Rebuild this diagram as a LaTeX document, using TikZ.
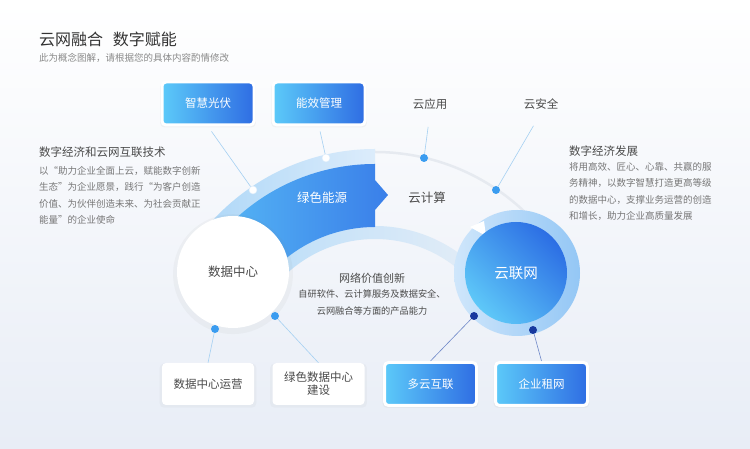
\documentclass[tikz,border=0pt]{standalone}
\usepackage{fontspec}
\setmainfont{Noto Sans CJK SC}
\usetikzlibrary{shadows}

\definecolor{ink}{HTML}{333333}
\definecolor{headgray}{HTML}{4A4A4A}
\definecolor{bodygray}{HTML}{777777}
\definecolor{subgray}{HTML}{8A8A8A}
\definecolor{bgbot}{HTML}{E8EDF6}
\definecolor{boxlight}{HTML}{5CCAF9}
\definecolor{boxdark}{HTML}{2F6DE3}
\definecolor{bandlight}{HTML}{58BCF6}
\definecolor{banddark}{HTML}{3A7FE9}
\definecolor{paleblue}{HTML}{A9D5F7}
\definecolor{palefade}{HTML}{DCECFB}
\definecolor{innerfade}{HTML}{E6EEF7}
\definecolor{ringlight}{HTML}{CFE6FB}
\definecolor{ringdark}{HTML}{94C7F5}
\definecolor{corelight}{HTML}{5EC8F8}
\definecolor{coredark}{HTML}{2C6EE4}
\definecolor{dotblue}{HTML}{3A9CF0}
\definecolor{dotnavy}{HTML}{17389E}
\definecolor{leadblue}{HTML}{A5D0F2}
\definecolor{leadnavy}{HTML}{6F88C8}
\definecolor{rimgray}{HTML}{E6EAF0}

\begin{document}
\begin{tikzpicture}[
    x=1pt,y=1pt,
    title/.style={anchor=west,inner sep=0pt,text=ink,font=\fontsize{16}{18}\selectfont},
    subtitle/.style={anchor=west,inner sep=0pt,text=subgray,font=\fontsize{9.5}{11}\selectfont},
    heading/.style={anchor=west,inner sep=0pt,text=headgray,font=\fontsize{11.5}{13}\selectfont},
    body/.style={anchor=north west,inner sep=0pt,align=left,text=bodygray,
        font=\fontsize{9.5}{16.5}\selectfont},
    bluebox/.style={rounded corners=4pt,draw=white,line width=3pt,
        minimum width=92pt,minimum height=43pt,left color=boxlight,right color=boxdark,
        text=white,font=\fontsize{11.5}{13}\selectfont,
        drop shadow={opacity=.07,shadow xshift=0pt,shadow yshift=-1.5pt,shadow scale=1.04}},
    whitebox/.style={rounded corners=4pt,fill=white,minimum width=92pt,minimum height=42pt,
        text=headgray,font=\fontsize{11.5}{13}\selectfont,align=center,
        drop shadow={opacity=.05,shadow xshift=0pt,shadow yshift=-1.5pt,shadow scale=1.05}},
    tag/.style={text=headgray,font=\fontsize{11.5}{13}\selectfont},
    lead/.style={line width=.6pt,draw=leadblue},
    dot/.style={circle,inner sep=0pt,minimum size=8pt},
    hollow/.style={fill=white,draw=palefade,line width=.5pt},
    solid/.style={fill=dotblue},
    deep/.style={fill=dotnavy}
]
    \useasboundingbox (0,0) rectangle (750,449);
    \shade[top color=white,bottom color=bgbot] (0,0) rectangle (750,449);

    % Title block.
    \node[title] (title) at (39,410) {云网融合\hspace{.6em}数字赋能};
    \node[subtitle] (subtitle) at (39,391) {此为概念图解，请根据您的具体内容酌情修改};

    % Side texts.
    \node[heading] (lefthead) at (39,297) {数字经济和云网互联技术};
    \node[body] (lefttext) at (39,283) {以“助力企业全面上云，赋能数字创新\\
        生态”为企业愿景，践行“为客户创造\\
        价值、为伙伴创造未来、为社会贡献正\\
        能量”的企业使命};
    \node[heading] (righthead) at (569,298) {数字经济发展};
    \node[body] (righttext) at (569,287) {将用高效、匠心、心靠、共赢的服\\
        务精神，以数字智慧打造更高等级\\
        的数据中心，支撑业务运营的创造\\
        和增长，助力企业高质量发展};

    % Ring round (375,80): rim, pale strips and the blue band.
    \begin{scope}[shift={(375,80)}]
        \draw[rimgray,line width=2.5pt] (32:217) arc[start angle=32,end angle=90,radius=217];
        \shade[left color=paleblue,right color=palefade]
            (150:220) arc[start angle=150,end angle=90,radius=220]
            -- (90:204) arc[start angle=90,end angle=150,radius=204] -- cycle;
        \shade[left color=paleblue!80,right color=innerfade]
            (150:143) arc[start angle=150,end angle=35,radius=143]
            -- (35:130) arc[start angle=35,end angle=150,radius=130] -- cycle;
        \shade[left color=bandlight,right color=banddark]
            (150:205) arc[start angle=150,end angle=90,radius=205]
            -- (0,189) -- (13,174) -- (0,159)
            -- (90:142) arc[start angle=90,end angle=150,radius=142] -- cycle;
    \end{scope}

    % The two hubs.
    \node[circle,fill=white,minimum size=112pt,text=headgray,font=\fontsize{12.5}{14}\selectfont,
        drop shadow={opacity=.06,shadow xshift=0pt,shadow yshift=-2pt,shadow scale=1.07}]
        (center) at (233,177) {数据中心};
    \node[circle,minimum size=126pt,left color=ringlight,right color=ringdark] (ring) at (517,176) {};
    \fill[white] (470,222) -- (484,228) -- (486,213) -- cycle;
    \node[circle,minimum size=102pt,top color=coredark,bottom color=corelight,shading angle=-45,
        text=white,font=\fontsize{14.5}{16}\selectfont] (net) at (516,176) {云联网};

    % Band labels and the middle note.
    \node[text=white,font=\fontsize{12.5}{14}\selectfont] (green) at (322,251) {绿色能源};
    \node[tag,font=\fontsize{12.5}{14}\selectfont] (compute) at (427,251) {云计算};
    \node[tag,font=\fontsize{11}{13}\selectfont] (valuehead) at (372,171) {网络价值创新};
    \node[align=center,text=headgray,font=\fontsize{9.2}{16.5}\selectfont]
        (valuetext) at (372,146.5) {自研软件、云计算服务及数据安全、\\云网融合等方面的产品能力};

    % Dots on the rim and under the hubs.
    \node[dot,hollow] (w1) at (253,259) {};
    \node[dot,hollow] (w2) at (326,291) {};
    \node[dot,solid] (b1) at (424,291) {};
    \node[dot,solid] (b2) at (496,259) {};
    \node[dot,solid] (b3) at (215,120) {};
    \node[dot,solid] (b4) at (275,133) {};
    \node[dot,deep] (n1) at (474,133) {};
    \node[dot,deep] (n2) at (533,119) {};

    % Upper items.
    \node[bluebox] (solar) at (208,345.5) {智慧光伏};
    \node[bluebox] (energy) at (319,345.5) {能效管理};
    \node[tag] (app) at (430,345) {云应用};
    \node[tag] (safe) at (541,345) {云安全};

    % Lower items.
    \node[whitebox] (ops) at (208,65) {数据中心运营};
    \node[whitebox] (build) at (318.5,65) {绿色数据中心\\建设};
    \node[bluebox] (multi) at (430.5,65) {多云互联};
    \node[bluebox] (lease) at (541.5,65) {企业租网};

    % Leads.
    \draw[lead,shorten <=6pt] (solar.south) -- (w1);
    \draw[lead,shorten <=5pt] (energy.south) -- (w2);
    \draw[lead,shorten <=14pt] (app.south) -- (b1);
    \draw[lead,shorten <=15pt] (safe.south) -- (b2);
    \draw[lead] (b3) -- (ops.north);
    \draw[lead] (b4) -- (build.north);
    \draw[lead,draw=leadnavy] (n1) -- (multi.north);
    \draw[lead,draw=leadnavy] (n2) -- (lease.north);
\end{tikzpicture}
\end{document}
